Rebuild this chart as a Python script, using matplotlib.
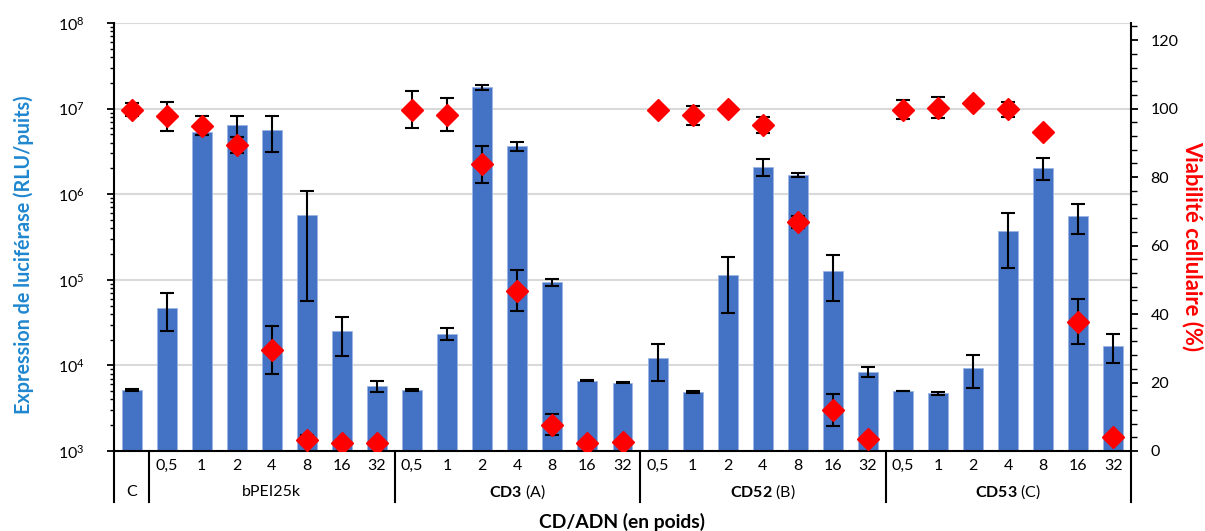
import matplotlib
matplotlib.use('Agg')
import matplotlib.pyplot as plt
import numpy as np
from matplotlib.ticker import LogLocator, MultipleLocator, NullFormatter
from matplotlib.transforms import blended_transform_factory

plt.rcParams['font.family'] = ['Lato', 'DejaVu Sans']
plt.rcParams['mathtext.fontset'] = 'custom'
plt.rcParams['mathtext.rm'] = 'Lato'
plt.rcParams['mathtext.bf'] = 'Lato:bold'
plt.rcParams['mathtext.it'] = 'Lato:italic'

# ---- data ----
doses = ['0,5', '1', '2', '4', '8', '16', '32']
dose_labels = [''] + doses * 4
group_labels = ['C', 'bPEI25k', r'$\mathbf{CD3}$ (A)', r'$\mathbf{CD52}$ (B)', r'$\mathbf{CD53}$ (C)']
group_sizes = [1, 7, 7, 7, 7]

luciferase = [5160, 47400, 5.3e6, 6.47e6, 5.65e6, 5.77e5, 25000, 5770,
              5160, 23300, 1.766e7, 3.61e6, 93100, 6610, 6250,
              12200, 4890, 1.127e5, 2.09e6, 1.68e6, 1.26e5, 8380,
              5020, 4720, 9350, 3.69e5, 2.05e6, 5.52e5, 16900]
luciferase_err = [100, 22000, 4e5, 1.8e6, 2.5e6, 5.2e5, 12000, 870,
                  80, 3700, 1.2e6, 4.2e5, 8000, 120, 80,
                  5600, 100, 72000, 4.8e5, 9e4, 69000, 1100,
                  60, 220, 3900, 2.3e5, 5.7e5, 2.1e5, 6200]
viability = [99.7, 97.7, 95.0, 89.3, 29.4, 3.3, 2.2, 2.4,
             99.7, 98.2, 83.8, 46.8, 7.7, 2.4, 2.5,
             99.7, 98.0, 99.8, 95.2, 66.8, 12.0, 3.4,
             99.7, 100.3, 101.5, 99.8, 93.3, 37.8, 4.0]
viability_err = [2.0, 4.2, 2.7, 2.4, 7.0, 1.3, 0, 0,
                 5.3, 4.8, 5.4, 6.0, 3.1, 0, 0,
                 0, 2.7, 0, 2.3, 1.8, 4.7, 0,
                 2.7, 3.1, 0, 2.2, 0, 6.6, 0]

W, H = 1205, 531
fig = plt.figure(figsize=(W / 100, H / 100), dpi=100)
left, right, top, bottom = 114, 1131, 23, 451
ax = fig.add_axes([left / W, (H - bottom) / H, (right - left) / W, (bottom - top) / H])

x = np.arange(len(luciferase))
ax.bar(x, luciferase, width=0.57, color='#4472C4', edgecolor='#9DB5E3', linewidth=0.6, zorder=2)
ax.errorbar(x, luciferase, yerr=luciferase_err, fmt='none', ecolor='black',
            elinewidth=1.5, capsize=4.7, capthick=1.5, zorder=3)
ax.set_yscale('log')
ax.set_ylim(1e3, 1e8)
ax.set_xlim(-0.5, len(x) - 0.5)
ax.yaxis.set_major_locator(LogLocator(base=10, numticks=10))
ax.yaxis.set_minor_locator(LogLocator(base=10, subs=np.arange(2, 10), numticks=50))
ax.yaxis.set_minor_formatter(NullFormatter())
ax.yaxis.grid(True, which='major', color='#D9D9D9', lw=1.5)
ax.set_axisbelow(True)
ax.tick_params(axis='y', which='major', direction='out', length=5, width=1.3, pad=16, labelsize=11.5)
ax.tick_params(axis='y', which='minor', direction='out', length=3, width=1.0)
ax.tick_params(axis='x', bottom=False, labelbottom=False)
for s in ['top', 'right']:
    ax.spines[s].set_visible(False)
for s in ['left', 'bottom']:
    ax.spines[s].set_color('black')
    ax.spines[s].set_linewidth(1.5)

ax2 = ax.twinx()
ax2.set_ylim(0, 125)
ax2.yaxis.set_major_locator(MultipleLocator(20))
ax2.yaxis.set_minor_locator(MultipleLocator(4))
ax2.set_yticks(np.arange(0, 121, 20))
ax2.tick_params(axis='y', which='major', direction='out', length=5, width=1.3, pad=9, labelsize=11.5)
ax2.tick_params(axis='y', which='minor', direction='out', length=4, width=1.0)
for s in ['top', 'left', 'bottom']:
    ax2.spines[s].set_visible(False)
ax2.spines['right'].set_color('black')
ax2.spines['right'].set_linewidth(1.5)
ax2.errorbar(x, viability, yerr=viability_err, fmt='none', ecolor='black',
             elinewidth=1.5, capsize=4.7, capthick=1.5, zorder=3)
ax2.plot(x, viability, linestyle='none', marker='D', color='#FF0000', ms=11, zorder=4)

# category labels
trans = blended_transform_factory(ax.transData, ax.transAxes)
hpx = bottom - top
def ay(py):
    return (bottom - py) / hpx

for xi, lab in zip(x, dose_labels):
    ax.text(xi, ay(466), lab, transform=trans, ha='center', va='center', fontsize=11.5)

starts = np.concatenate([[0], np.cumsum(group_sizes)[:-1]])
for st, sz, lab in zip(starts, group_sizes, group_labels):
    ax.text(st + (sz - 1) / 2, ay(492), lab, transform=trans, ha='center', va='center', fontsize=11.5)

bounds = np.concatenate([[0], np.cumsum(group_sizes)]) - 0.5
for b in bounds:
    ax.plot([b, b], [0, ay(502)], transform=trans, clip_on=False, color='black', lw=1.5)

t_title = fig.text(622 / W, 1 - 522 / H, 'CD/ADN (en poids)', ha='center', va='center',
                   fontsize=12, fontweight='bold')
t_left = fig.text(24 / W, 1 - 255 / H, 'Expression de luciférase (RLU/puits)', ha='center', va='center',
                  rotation=90, fontsize=12, fontweight='bold', color='#1F87D0')
t_right = fig.text(1193 / W, 1 - 246 / H, 'Viabilité cellulaire (%)', ha='center', va='center',
                   rotation=270, fontsize=12, fontweight='bold', color='#FF0000')

# scale label font sizes to the lengths seen in the reference
fig.canvas.draw()
r = fig.canvas.get_renderer()
for t, target, horiz in [(t_title, 166, True), (t_left, 316, False), (t_right, 208, False)]:
    bb = t.get_window_extent(r)
    cur = bb.width if horiz else bb.height
    t.set_fontsize(t.get_fontsize() * target / cur)

fig.savefig('out.png', dpi=100)
